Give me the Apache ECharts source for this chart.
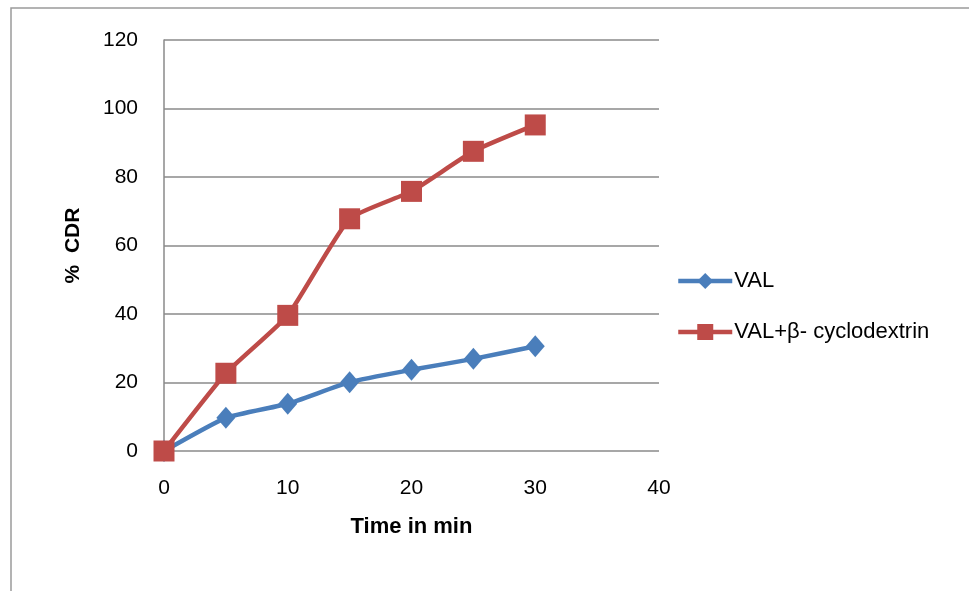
<!DOCTYPE html>
<html>
<head>
<meta charset="utf-8">
<script src="https://cdn.jsdelivr.net/npm/echarts@6/dist/echarts.min.js"></script>
<style>
  html, body { margin: 0; padding: 0; background: #fff; }
  #chart { width: 969px; height: 591px; }
</style>
</head>
<body>
<div id="chart"></div>
<script>
// Dissolution profile: cumulative drug release over time
const timeMin = [0, 5, 10, 15, 20, 25, 30];
const valCDR = [0, 9.7, 13.8, 20.1, 23.7, 26.9, 30.6];
const valBetaCDCDR = [0, 22.7, 39.6, 67.8, 75.8, 87.5, 95.2];
const seriesNames = ['VAL', 'VAL+β- cyclodextrin'];

const font = "'Liberation Sans', 'DejaVu Sans', sans-serif";
const chart = echarts.init(document.getElementById('chart'));

const toPairs = (xs, ys) => xs.map((x, i) => [x, ys[i]]);

chart.setOption({
  backgroundColor: '#ffffff',
  animation: false,
  graphic: [{
    type: 'rect',
    shape: { x: 11, y: 8, width: 1000, height: 700 },
    style: { fill: 'none', stroke: '#9a9a9a', lineWidth: 1.5 },
    silent: true
  }],
  grid: { left: 164, right: 310, top: 40, bottom: 140 },
  xAxis: {
    type: 'value',
    min: 0, max: 40, interval: 10,
    name: 'Time in min',
    nameLocation: 'middle',
    nameGap: 65,
    nameTextStyle: { fontFamily: font, fontSize: 22, fontWeight: 'bold', color: '#000' },
    axisLine: { show: false },
    axisTick: { show: false },
    axisLabel: { margin: 27, fontFamily: font, fontSize: 21, color: '#000' },
    splitLine: { show: false }
  },
  yAxis: {
    type: 'value',
    min: 0, max: 120, interval: 20,
    name: '%  CDR',
    nameLocation: 'middle',
    nameGap: 80,
    nameTextStyle: { fontFamily: font, fontSize: 21, fontWeight: 'bold', color: '#000' },
    axisLine: { show: true, lineStyle: { color: '#8a8a8a', width: 1.5 } },
    axisTick: { show: false },
    axisLabel: { margin: 26, fontFamily: font, fontSize: 21, color: '#000' },
    splitLine: { show: true, lineStyle: { color: '#8a8a8a', width: 1.5 } }
  },
  legend: {
    orient: 'vertical',
    left: 671,
    top: 265,
    itemWidth: 54,
    itemHeight: 20,
    itemGap: 29,
    lineStyle: { width: 4.5 },
    textStyle: { fontFamily: font, fontSize: 22, color: '#000', padding: [0, 0, 0, -3] },
    data: seriesNames
  },
  series: [
    {
      name: seriesNames[0],
      type: 'line',
      data: toPairs(timeMin, valCDR),
      smooth: 0.15,
      symbol: 'diamond',
      symbolSize: [19, 22],
      lineStyle: { color: '#4A7EBB', width: 4.5 },
      itemStyle: { color: '#4A7EBB' },
      z: 3
    },
    {
      name: seriesNames[1],
      type: 'line',
      data: toPairs(timeMin, valBetaCDCDR),
      smooth: 0.15,
      symbol: 'rect',
      symbolSize: 21,
      lineStyle: { color: '#BE4B48', width: 4.5 },
      itemStyle: { color: '#BE4B48' },
      z: 4
    }
  ]
});
</script>
</body>
</html>
